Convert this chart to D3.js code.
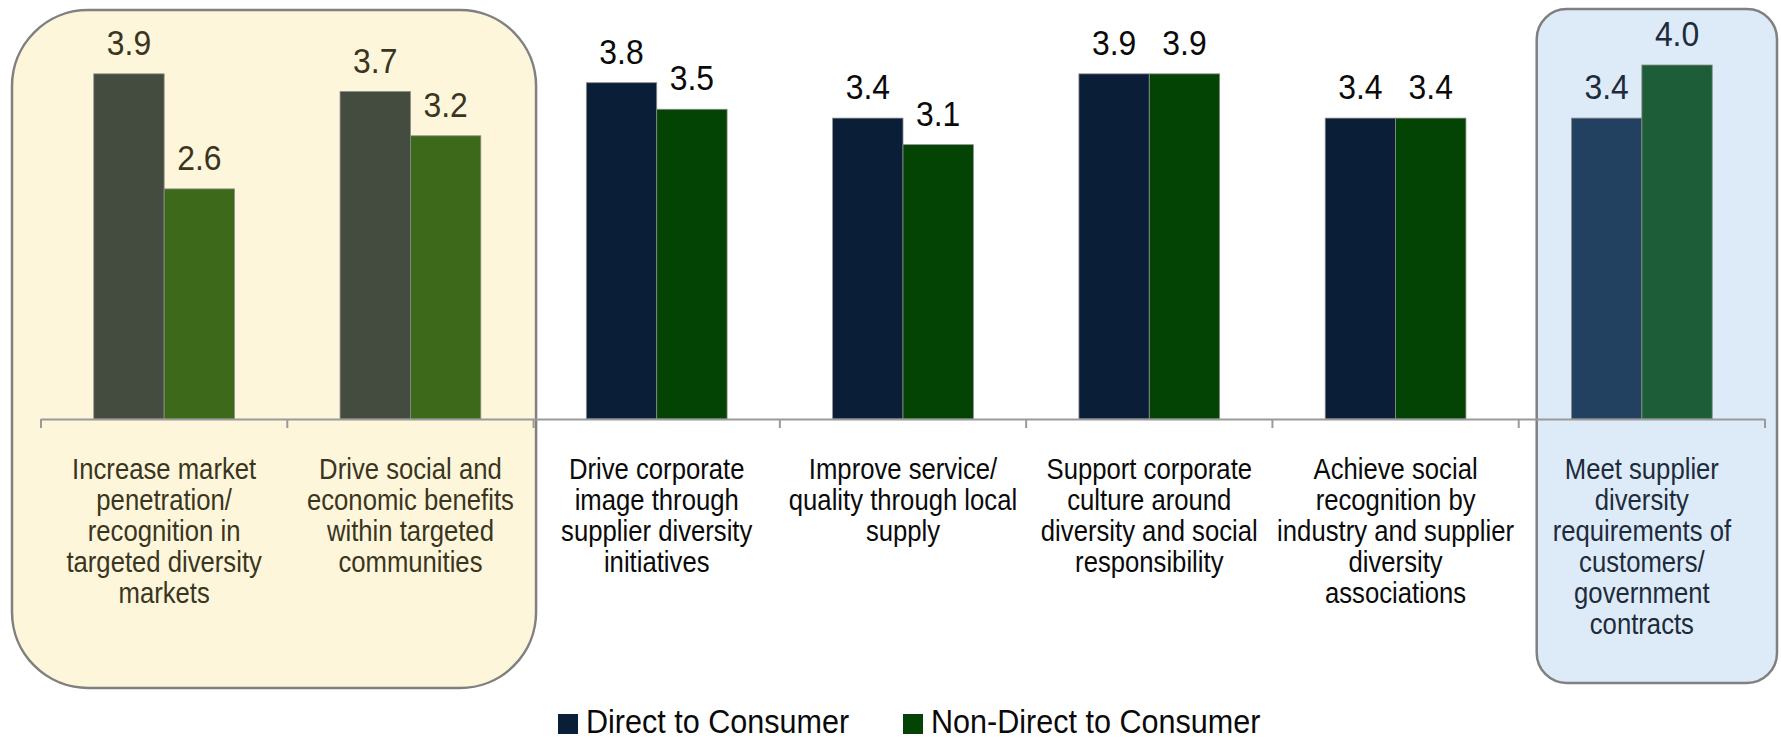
<!DOCTYPE html>
<html>
<head>
<meta charset="utf-8">
<script src="https://cdn.jsdelivr.net/npm/d3@7"></script>
<style>
  html, body { margin: 0; padding: 0; background: #ffffff; }
  svg { display: block; }
  text { font-family: "Liberation Sans", Arial, sans-serif; }
</style>
</head>
<body>
<svg id="chart" width="1781" height="740"></svg>
<script>
// Reasons for supplier diversity programs, mean rating by company type
const categories = ["market", "social", "image", "service", "culture", "recognition", "requirements"];
const categoryLines = [
  ["Increase market", "penetration/", "recognition in", "targeted diversity", "markets"],
  ["Drive social and", "economic benefits", "within targeted", "communities"],
  ["Drive corporate", "image through", "supplier diversity", "initiatives"],
  ["Improve service/", "quality through local", "supply"],
  ["Support corporate", "culture around", "diversity and social", "responsibility"],
  ["Achieve social", "recognition by", "industry and supplier", "diversity", "associations"],
  ["Meet supplier", "diversity", "requirements of", "customers/", "government", "contracts"]
];
const seriesNames = ["Direct to Consumer", "Non-Direct to Consumer"];
const directValues = [3.9, 3.7, 3.8, 3.4, 3.9, 3.4, 3.4];
const nonDirectValues = [2.6, 3.2, 3.5, 3.1, 3.9, 3.4, 4.0];
// which panel each category sits in
const categoryZone = ["warm", "warm", "plain", "plain", "plain", "plain", "cool"];

// colours for each panel
const zoneStyle = {
  warm:  { bars: ["#444c40", "#3d6a1a"], text: "#3a3521" },
  plain: { bars: ["#0b1e37", "#034404"], text: "#0a0a0a" },
  cool:  { bars: ["#22405f", "#1d5e38"], text: "#1d2b3b" }
};
const legendColors = ["#0b1e37", "#034404"];

const svg = d3.select("#chart");
// condensed lettering: squeeze the glyphs horizontally
const squeeze = 0.886;
const legendSqueeze = 0.926;

const x = d3.scaleBand().domain(categories).range([41, 1765]).padding(0);
const xs = d3.scaleBand().domain(seriesNames).range([0, x.bandwidth()]).paddingInner(0).paddingOuter(0.75);
const y = d3.scaleLinear().domain([0, 4]).range([419, 65]);

// highlight panels behind the groups
const warmLeft = x(categories[0]) - 29;
const warmRight = x(categories[1]) + x.bandwidth() + 2.5;
svg.append("rect")
  .attr("x", warmLeft).attr("y", 10)
  .attr("width", warmRight - warmLeft).attr("height", 678)
  .attr("rx", 76).attr("ry", 76)
  .attr("fill", "#fdf6da").attr("stroke", "#808080").attr("stroke-width", 2.5);

const coolLeft = x(categories[6]) + 18;
const coolRight = x(categories[6]) + x.bandwidth() + 12;
svg.append("rect")
  .attr("x", coolLeft).attr("y", 9)
  .attr("width", coolRight - coolLeft).attr("height", 674)
  .attr("rx", 30).attr("ry", 30)
  .attr("fill", "#ddeaf7").attr("stroke", "#808080").attr("stroke-width", 2.5);

// bars
const rows = categories.map((c, i) => ({
  cat: c, zone: categoryZone[i],
  values: [directValues[i], nonDirectValues[i]]
}));

const groups = svg.append("g").selectAll("g")
  .data(rows).join("g")
  .attr("transform", d => `translate(${x(d.cat)},0)`);

groups.selectAll("rect")
  .data(d => d.values.map((v, k) => ({ v, k, zone: d.zone, name: seriesNames[k] })))
  .join("rect")
  .attr("x", d => xs(d.name))
  .attr("y", d => y(d.v))
  .attr("width", xs.bandwidth())
  .attr("height", d => y(0) - y(d.v))
  .attr("fill", d => zoneStyle[d.zone].bars[d.k])
  .attr("stroke", "#8c8c8c").attr("stroke-width", 0.8);

// value labels
groups.selectAll("text.value")
  .data(d => d.values.map((v, k) => ({ v, k, zone: d.zone, name: seriesNames[k] })))
  .join("text")
  .attr("class", "value")
  .attr("transform", d => `translate(${xs(d.name) + xs.bandwidth() / 2},${y(d.v) - 19}) scale(${squeeze},1)`)
  .attr("text-anchor", "middle")
  .attr("font-size", 36)
  .attr("fill", d => zoneStyle[d.zone].text)
  .text(d => d.v.toFixed(1));

// category axis
const axisG = svg.append("g");
axisG.append("line")
  .attr("x1", x.range()[0]).attr("x2", x.range()[1])
  .attr("y1", y(0) + 0.5).attr("y2", y(0) + 0.5)
  .attr("stroke", "#9a9a9a").attr("stroke-width", 2);
const boundaries = categories.map(c => x(c)).concat([x.range()[1]]);
axisG.selectAll("line.tick")
  .data(boundaries).join("line")
  .attr("class", "tick")
  .attr("x1", d => d).attr("x2", d => d)
  .attr("y1", y(0)).attr("y2", y(0) + 9)
  .attr("stroke", "#9a9a9a").attr("stroke-width", 2);

// category labels
const lineHeight = 31;
rows.forEach((d, i) => {
  const cx = x(d.cat) + x.bandwidth() / 2;
  categoryLines[i].forEach((line, j) => {
    svg.append("text")
      .attr("transform", `translate(${cx},${479 + j * lineHeight}) scale(${squeeze},1)`)
      .attr("text-anchor", "middle")
      .attr("font-size", 29)
      .attr("fill", zoneStyle[d.zone].text)
      .text(line);
  });
});

// legend
const legendItems = [
  { name: seriesNames[0], color: legendColors[0], x: 558 },
  { name: seriesNames[1], color: legendColors[1], x: 903 }
];
const legend = svg.append("g").selectAll("g").data(legendItems).join("g")
  .attr("transform", d => `translate(${d.x},0)`);
legend.append("rect")
  .attr("x", 0).attr("y", 714).attr("width", 20).attr("height", 20)
  .attr("fill", d => d.color);
legend.append("text")
  .attr("transform", `translate(28,733) scale(${legendSqueeze},1)`)
  .attr("font-size", 33)
  .attr("fill", "#0a0a0a")
  .text(d => d.name);
</script>
</body>
</html>
